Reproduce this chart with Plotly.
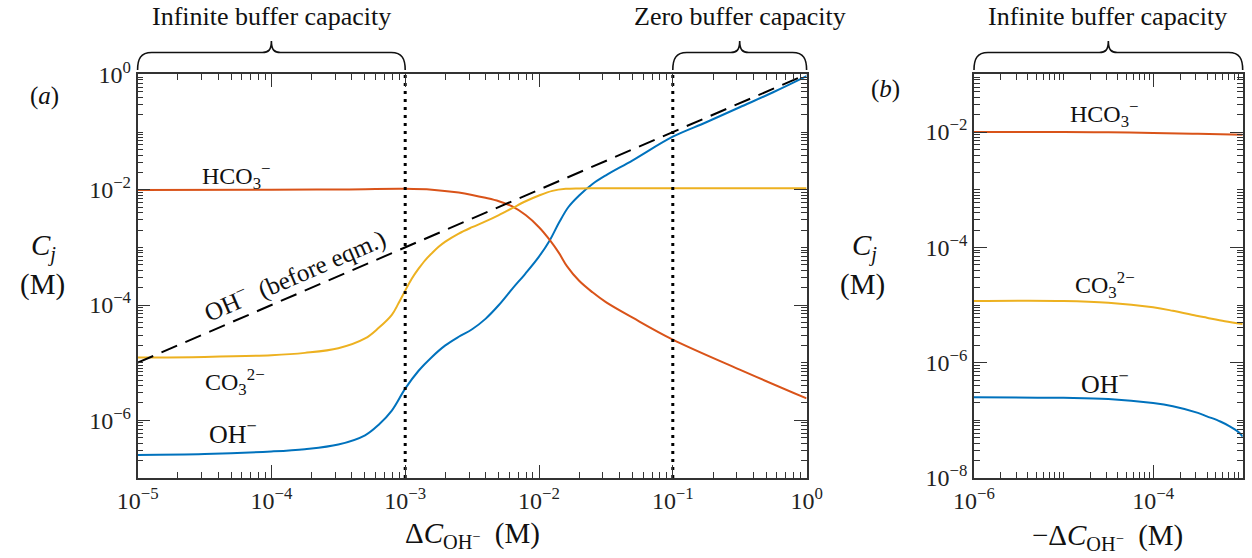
import numpy as np
import plotly.graph_objects as go

W, H = 1252, 558
FONT = "Liberation Serif"

# ---------------- data (log10 values) ----------------
# Panel (a): x = Delta C_OH- (M)
a_oh_logx = [-5.0, -4.5, -4.0, -3.75, -3.5, -3.3, -3.2, -3.1, -3.0, -2.9, -2.8, -2.7, -2.6, -2.5, -2.4, -2.3,
             -2.2, -2.1, -2.0, -1.92, -1.85, -1.78, -1.7, -1.6, -1.5, -1.3, -1.0, -0.75, -0.5, -0.25, 0.0]
a_oh_logy = [-6.60, -6.585, -6.54, -6.50, -6.42, -6.26, -6.08, -5.83, -5.45, -5.14, -4.90, -4.70, -4.55, -4.42, -4.24, -4.00,
             -3.72, -3.45, -3.16, -2.88, -2.57, -2.30, -2.10, -1.90, -1.75, -1.49, -1.08, -0.83, -0.57, -0.31, -0.03]

a_co3_logx = [-5.0, -4.5, -4.0, -3.75, -3.5, -3.3, -3.2, -3.1, -3.05, -3.0, -2.95, -2.9, -2.85, -2.8, -2.75, -2.7,
              -2.6, -2.5, -2.4, -2.3, -2.2, -2.1, -2.0, -1.9, -1.8, -1.7, -1.5, -1.0, -0.5, 0.0]
a_co3_logy = [-4.91, -4.90, -4.87, -4.83, -4.75, -4.58, -4.40, -4.17, -3.97, -3.75, -3.54, -3.37, -3.22, -3.10, -2.99, -2.90,
              -2.76, -2.65, -2.55, -2.44, -2.32, -2.20, -2.10, -2.02, -1.985, -1.977, -1.976, -1.976, -1.976, -1.976]

a_hco3_logx = [-5.0, -4.0, -3.5, -3.0, -2.8, -2.6, -2.5, -2.4, -2.3, -2.2, -2.1, -2.0, -1.92, -1.85, -1.79, -1.7,
               -1.6, -1.5, -1.3, -1.0, -0.5, 0.0]
a_hco3_logy = [-2.005, -2.0, -1.995, -1.985, -2.0, -2.05, -2.09, -2.14, -2.20, -2.29, -2.44, -2.65, -2.87, -3.10, -3.33, -3.58,
               -3.78, -3.95, -4.22, -4.60, -5.12, -5.62]

a_ohpre_logx = [-5.0, 0.0]
a_ohpre_logy = [-5.0, 0.0]

a_vlines = [1e-3, 1e-1]

# Panel (b): x = -Delta C_OH- (M)
b_hco3_logx = [-6.0, -5.0, -4.5, -4.0, -3.5, -3.0]
b_hco3_logy = [-2.0, -2.0, -2.005, -2.015, -2.03, -2.047]

b_co3_logx = [-6.0, -5.0, -4.5, -4.0, -3.78, -3.5, -3.4, -3.2, -3.0]
b_co3_logy = [-4.93, -4.93, -4.96, -5.04, -5.10, -5.19, -5.22, -5.28, -5.33]

b_oh_logx = [-6.0, -5.0, -4.5, -4.0, -3.78, -3.5, -3.4, -3.25, -3.15, -3.05, -3.0]
b_oh_logy = [-6.60, -6.61, -6.63, -6.70, -6.755, -6.87, -6.93, -7.02, -7.10, -7.20, -7.28]

# axis ranges (log10)
ax_range, ay_range = [-5, 0], [-7, 0]
bx_range, by_range = [-6, -3], [-8, -1]
ax_ticks = [-5, -4, -3, -2, -1, 0]
ay_ticks = [-6, -4, -2, 0]
bx_ticks = [-6, -4]
by_ticks = [-8, -6, -4, -2]

BLUE, ORANGE, YELLOW = "#0072BD", "#D95319", "#EDB120"

# ---------------- layout geometry (pixels) ----------------
a_px = (137.6, 806.6)
b_px = (974.0, 1242.7)
top_px, bot_px = 74.4, 478.0

a_dom = [a_px[0] / W, a_px[1] / W]
b_dom = [b_px[0] / W, b_px[1] / W]
y_dom = [1 - bot_px / H, 1 - top_px / H]

fig = go.Figure()


def line(xl, yl, color, xa, ya, dash=None, width=2.0, shape="spline"):
    fig.add_trace(go.Scatter(
        x=np.power(10.0, xl), y=np.power(10.0, yl), mode="lines",
        line=dict(color=color, width=width, dash=dash, shape=shape, smoothing=1.0 if shape == "spline" else None),
        xaxis=xa, yaxis=ya, showlegend=False, hoverinfo="skip"))


line(a_oh_logx, a_oh_logy, BLUE, "x", "y")
line(a_hco3_logx, a_hco3_logy, ORANGE, "x", "y")
line(a_co3_logx, a_co3_logy, YELLOW, "x", "y")
line(a_ohpre_logx, a_ohpre_logy, "black", "x", "y", dash="17px,9px", width=2.0, shape="linear")
for v in a_vlines:
    fig.add_trace(go.Scatter(x=[v, v], y=[10.0 ** ay_range[0], 10.0 ** ay_range[1]], mode="lines",
                             line=dict(color="black", width=3, dash="3px,5px"),
                             xaxis="x", yaxis="y", showlegend=False, hoverinfo="skip"))

line(b_hco3_logx, b_hco3_logy, ORANGE, "x2", "y2")
line(b_co3_logx, b_co3_logy, YELLOW, "x2", "y2")
line(b_oh_logx, b_oh_logy, BLUE, "x2", "y2")


def minor_vals(r, majors):
    vals = []
    for k in range(int(np.floor(r[0])), int(np.ceil(r[1])) + 1):
        for d in range(1, 10):
            v = d * 10.0 ** k
            lv = np.log10(v)
            if lv < r[0] - 1e-9 or lv > r[1] + 1e-9:
                continue
            if d == 1 and k in majors:
                continue
            vals.append(v)
    return vals


def sup_label(p):
    return "10<sup>" + ("−" if p < 0 else "") + str(abs(p)) + "</sup>"


def axis(rng, dom, ticks, anchor):
    return dict(
        type="log", range=rng, domain=dom, anchor=anchor, automargin=False,
        tickmode="array", tickvals=[10.0 ** p for p in ticks], ticktext=[sup_label(p) for p in ticks],
        showline=True, linecolor="#333", linewidth=1.6, mirror="allticks",
        ticks="inside", ticklen=13, tickwidth=1.3, tickcolor="#333",
        showgrid=False, zeroline=False,
        tickfont=dict(family=FONT, size=24, color="#222"),
        minor=dict(tickmode="array", tickvals=minor_vals(rng, ticks), ticks="inside", ticklen=6,
                   tickwidth=1.1, tickcolor="#333", showgrid=False),
    )


fig.update_layout(
    width=W, height=H, margin=dict(l=0, r=0, t=0, b=0, autoexpand=False),
    paper_bgcolor="white", plot_bgcolor="white", showlegend=False,
    xaxis=axis(ax_range, a_dom, ax_ticks, "y"),
    yaxis=axis(ay_range, y_dom, ay_ticks, "x"),
    xaxis2=axis(bx_range, b_dom, bx_ticks, "y2"),
    yaxis2=axis(by_range, y_dom, by_ticks, "x2"),
)


# ---------------- text annotations ----------------
def px_ann(text, x, y, size=24, angle=0, xanchor="center"):
    fig.add_annotation(text=text, x=x / W, y=1 - y / H, xref="paper", yref="paper",
                       showarrow=False, textangle=angle, xanchor=xanchor, yanchor="middle",
                       font=dict(family=FONT, size=size, color="#111"))


px_ann("(<i>a</i>)", 44, 96, size=25)
px_ann("(<i>b</i>)", 885, 89, size=25)
px_ann("<i>C<sub>j</sub></i>", 43, 247, size=29)
px_ann("(M)", 42, 284, size=29)
px_ann("<i>C<sub>j</sub></i>", 864, 247, size=29)
px_ann("(M)", 862, 284, size=29)
px_ann("Δ<i>C</i><sub>OH<sup>−</sup></sub>  (M)", 472, 535, size=29)
px_ann("−Δ<i>C</i><sub>OH<sup>−</sup></sub>  (M)", 1107, 537, size=29)

px_ann("Infinite buffer capacity", 271, 16, size=26)
px_ann("Zero buffer capacity", 740, 16, size=26)
px_ann("Infinite buffer capacity", 1107, 16, size=26)

px_ann("HCO<sub>3</sub><sup>−</sup>", 236, 176, size=24)
px_ann("CO<sub>3</sub><sup>2−</sup>", 235, 382, size=24)
px_ann("OH<sup>−</sup>", 233, 432, size=26)
px_ann("OH<sup>−</sup>  (before eqm.)", 294, 274, size=25, angle=-23.3)
px_ann("HCO<sub>3</sub><sup>−</sup>", 1104, 114, size=24)
px_ann("CO<sub>3</sub><sup>2−</sup>", 1105, 285, size=24)
px_ann("OH<sup>−</sup>", 1105, 382, size=26)


# ---------------- braces ----------------
def data_to_px(v, rng, px_span):
    f = (np.log10(v) - rng[0]) / (rng[1] - rng[0])
    return px_span[0] + f * (px_span[1] - px_span[0])


def brace(x0, x1):
    xc = 0.5 * (x0 + x1)
    yb, ym, yt = 70.0, 52.5, 41.0
    pts = [("M", [(x0, yb)]),
           ("C", [(x0, 59), (x0 + 3, ym), (x0 + 14, ym)]),
           ("L", [(xc - 9, ym)]),
           ("C", [(xc - 3, ym), (xc, 50), (xc, yt)]),
           ("C", [(xc, 50), (xc + 3, ym), (xc + 9, ym)]),
           ("L", [(x1 - 14, ym)]),
           ("C", [(x1 - 3, ym), (x1, 59), (x1, yb)])]
    path = ""
    for cmd, ps in pts:
        path += cmd + " " + " ".join(f"{px / W:.5f},{1 - py / H:.5f}" for px, py in ps) + " "
    fig.add_shape(type="path", path=path.strip(), xref="paper", yref="paper",
                  line=dict(color="#111", width=1.6))


brace(data_to_px(1e-5, ax_range, a_px), data_to_px(1e-3, ax_range, a_px))
brace(data_to_px(1e-1, ax_range, a_px), data_to_px(1e0, ax_range, a_px))
brace(data_to_px(1e-6, bx_range, b_px), data_to_px(1e-3, bx_range, b_px))

fig.write_html("out.html", config={"displayModeBar": False},
               post_script="document.body.style.margin='0';document.body.style.overflow='hidden';")
